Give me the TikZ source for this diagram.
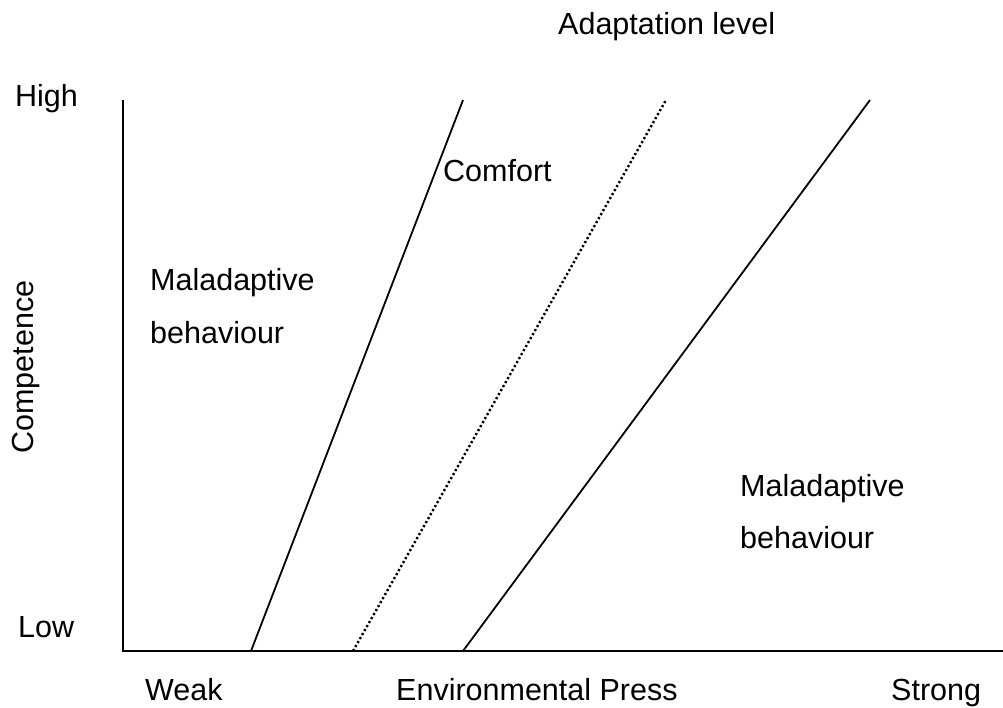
\documentclass[tikz,border=0pt]{standalone}
\usepackage{fontspec}
\setmainfont{Liberation Sans}
\usepackage{tikz}

\begin{document}
\begin{tikzpicture}[x=1pt,y=-1pt,
  lbl/.style={inner sep=0pt, anchor=base west, font=\fontsize{30.5}{36}\selectfont},
  axis/.style={-,line width=2pt, black},
  bound/.style={-,line width=1.8pt, black},
  level/.style={-,line width=2.4pt, black, dash pattern=on 2.2pt off 2.4pt}]

\useasboundingbox (0,0) rectangle (1003,708);

%% axes

\coordinate (o) at (123,651);
\coordinate (ytop) at (123,100);
\coordinate (xend) at (1003,651);
\draw[axis] (ytop) -- (o) -- (xend);

%% nodes

\node[lbl] (high) at (15,107) {High};
\node[lbl] (low) at (18,637) {Low};
\node[lbl] (weak) at (145,700) {Weak};
\node[lbl] (press) at (396,700) {Environmental Press};
\node[lbl] (strong) at (891,700) {Strong};
\node[lbl, anchor=center, rotate=90] (comp) at (26,367) {Competence};
\node[lbl] (adapt) at (558,35) {Adaptation level};
\node[lbl] (comfort) at (443,182) {Comfort};
\node[lbl] (mal1) at (150,291) {Maladaptive};
\node[lbl] (beh1) at (150,343) {behaviour};
\node[lbl] (mal2) at (740,496) {Maladaptive};
\node[lbl] (beh2) at (740,548) {behaviour};

%% lines

\coordinate (l1a) at (251,651);
\coordinate (l1b) at (463,100);
\coordinate (l2a) at (353,651);
\coordinate (l2b) at (666,100);
\coordinate (l3a) at (463,651);
\coordinate (l3b) at (870,100);

\draw[bound] (l1a) -- (l1b);
\draw[level] (l2a) -- (l2b);
\draw[bound] (l3a) -- (l3b);

\end{tikzpicture}
\end{document}
